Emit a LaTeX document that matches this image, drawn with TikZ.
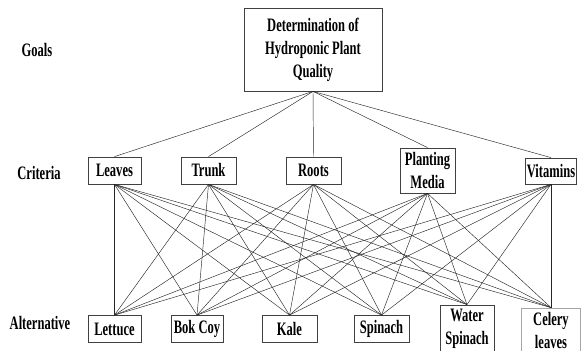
\documentclass[tikz,border=0pt]{standalone}
\usepackage{fontspec}
\setmainfont[FakeStretch=0.66]{Liberation Serif}
\usepackage{tikz}

\begin{document}
\begin{tikzpicture}[x=1pt,y=-1pt,font=\fontsize{19}{23}\selectfont\bfseries]
\tikzstyle{v}=[draw=black!75, line width=0.8pt, align=center, inner sep=0pt, minimum height=27pt]
\tikzstyle{lvl}=[inner sep=0pt]
\tikzstyle{conn}=[black!85, line width=0.45pt]
\useasboundingbox (0,0) rectangle (582,351);
% levels
\node[lvl]	(goals)	at (37,50)	{Goals};
\node[lvl]	(crit)	at (39,173)	{Criteria};
\node[lvl]	(alt)	at (40,323)	{Alternative};
% goal
\node[v, minimum width=138pt, minimum height=83pt]	(G)	at (313,49.5)	{Determination of\\Hydroponic Plant\\Quality};
% criteria
\node[v, minimum width=53pt]	(Lv)	at (114.5,170.5)	{Leaves};
\node[v, minimum width=55pt]	(Tr)	at (208.5,170.5)	{Trunk};
\node[v, minimum width=55pt]	(Ro)	at (313.5,170.5)	{Roots};
\node[v, minimum width=55pt, minimum height=45pt]	(PM)	at (427.5,170.5)	{Planting\\Media};
\node[v, minimum width=51pt, minimum height=26pt]	(Vi)	at (551,171)	{Vitamins};
% alternatives
\node[v, minimum width=53pt]	(Le)	at (114.5,329)	{Lettuce};
\node[v, minimum width=52pt]	(BC)	at (197,329)	{Bok Coy};
\node[v, minimum width=55pt]	(Ka)	at (289.5,329)	{Kale};
\node[v, minimum width=55pt]	(Sp)	at (381.5,329)	{Spinach};
\node[v, minimum width=54pt, minimum height=48pt]	(WS)	at (467,329)	{Water\\Spinach};
\node[v, draw=black!35, minimum width=59pt, minimum height=44pt]	(CL)	at (551,330)	{Celery\\leaves};
\path[conn](G.south)	edge	node	{}	(Lv.north)
	 (G.south)	edge	node	{}	(Tr.north)
	 (G.south)	edge	node	{}	(Ro.north)
	 (G.south)	edge	node	{}	(PM.north)
	 (G.south)	edge	node	{}	(Vi.north);
\path[conn](Lv.south)	edge	node	{}	(Le.north)
	 (Lv.south)	edge	node	{}	(BC.north)
	 (Lv.south)	edge	node	{}	(Ka.north)
	 (Lv.south)	edge	node	{}	(Sp.north)
	 (Lv.south)	edge	node	{}	(WS.north)
	 (Lv.south)	edge	node	{}	(CL.north)
	 (Tr.south)	edge	node	{}	(Le.north)
	 (Tr.south)	edge	node	{}	(BC.north)
	 (Tr.south)	edge	node	{}	(Ka.north)
	 (Tr.south)	edge	node	{}	(Sp.north)
	 (Tr.south)	edge	node	{}	(WS.north)
	 (Tr.south)	edge	node	{}	(CL.north)
	 (Ro.south)	edge	node	{}	(Le.north)
	 (Ro.south)	edge	node	{}	(BC.north)
	 (Ro.south)	edge	node	{}	(Ka.north)
	 (Ro.south)	edge	node	{}	(Sp.north)
	 (Ro.south)	edge	node	{}	(WS.north)
	 (Ro.south)	edge	node	{}	(CL.north)
	 (PM.south)	edge	node	{}	(Le.north)
	 (PM.south)	edge	node	{}	(BC.north)
	 (PM.south)	edge	node	{}	(Ka.north)
	 (PM.south)	edge	node	{}	(Sp.north)
	 (PM.south)	edge	node	{}	(WS.north)
	 (PM.south)	edge	node	{}	(CL.north)
	 (Vi.south)	edge	node	{}	(Le.north)
	 (Vi.south)	edge	node	{}	(BC.north)
	 (Vi.south)	edge	node	{}	(Ka.north)
	 (Vi.south)	edge	node	{}	(Sp.north)
	 (Vi.south)	edge	node	{}	(WS.north)
	 (Vi.south)	edge	node	{}	(CL.north);
\end{tikzpicture}
\end{document}
